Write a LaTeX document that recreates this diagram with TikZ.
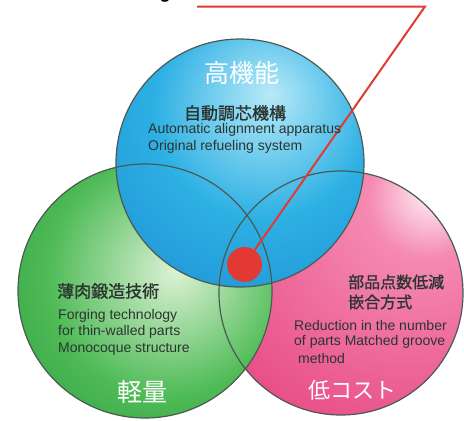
\documentclass[tikz,border=0pt]{standalone}
\usepackage{fontspec}
\setmainfont{Liberation Sans}
\newfontfamily\jp{Noto Sans CJK JP}
\newfontfamily\jpm[FakeBold=1.2]{Noto Sans CJK JP}
\definecolor{bluehi}{HTML}{B8EAF8}
\definecolor{bluemid}{HTML}{2DB0E4}
\definecolor{blueedge}{HTML}{1A8AD0}
\definecolor{greenhi}{HTML}{DDF2D6}
\definecolor{greenmid}{HTML}{4DBA55}
\definecolor{greenedge}{HTML}{23933A}
\definecolor{pinkhi}{HTML}{FFFFFF}
\definecolor{pinkmid}{HTML}{F58AB2}
\definecolor{pinkedge}{HTML}{E5407D}
\definecolor{redmark}{HTML}{E23A33}
\definecolor{outline}{HTML}{4B5A52}
\definecolor{txt}{HTML}{2B3530}
\pgfdeclareradialshading{blueball}{\pgfpoint{6bp}{14bp}}{color(0bp)=(bluehi); color(22bp)=(bluemid); color(48bp)=(blueedge); color(100bp)=(blueedge)}
\pgfdeclareradialshading{greenball}{\pgfpoint{6bp}{4bp}}{color(0bp)=(greenhi); color(24bp)=(greenmid); color(48bp)=(greenedge); color(100bp)=(greenedge)}
\pgfdeclareradialshading{pinkball}{\pgfpoint{20bp}{22bp}}{color(0bp)=(pinkhi); color(12bp)=(pinkmid); color(50bp)=(pinkedge); color(100bp)=(pinkedge)}
\begin{document}
\begin{tikzpicture}[x=1pt,y=-1pt,
  ball/.style={circle,inner sep=0pt,outer sep=0pt},
  ring/.style={draw=outline,line width=1.2pt},
  en/.style={anchor=west,inner sep=0pt,text=txt,font=\fontsize{14}{17}\selectfont},
  jpd/.style={anchor=west,inner sep=0pt,text=txt,font=\jpm\fontsize{17}{20}\selectfont},
  title/.style={inner sep=0pt,text=white,font=\jp\fontsize{25}{28}\selectfont},
  leader/.style={draw=redmark,line width=2pt}]
\useasboundingbox (0,0) rectangle (464,421);
\fill[white] (0,0) rectangle (464,421);
% partial text at top edge
\node[anchor=base,inner sep=0pt,font=\bfseries\fontsize{18}{20}\selectfont] (topg) at (165,-2) {g};
% circles (fills)
\node[ball,minimum size=244pt,shading=pinkball] (pink) at (341,293) {};
\node[ball,minimum size=254pt,shading=greenball] (green) at (145,291) {};
\node[ball,minimum size=248pt,shading=blueball] (blue) at (240,163) {};
% outlines
\draw[ring] (pink.center) circle[radius=122pt];
\draw[ring] (green.center) circle[radius=127pt];
\draw[ring] (blue.center) circle[radius=124pt];
% leader line and marker
\coordinate (lstart) at (197,6.5);
\coordinate (lcorner) at (425,6.5);
\node[circle,fill=redmark,inner sep=0pt,outer sep=0pt,minimum size=35pt] (dot) at (244.5,264.5) {};
\draw[leader] (lstart) -- (lcorner) -- (dot);
% blue texts
\node[title] (t1) at (242,73) {高機能};
\node[jpd,anchor=center] (j1) at (235,113) {自動調芯機構};
\node[en] (e1a) at (148,130) {Automatic alignment apparatus};
\node[en] (e1b) at (148,147) {Original refueling system};
% green texts
\node[jpd] (j2) at (57,291) {薄肉鍛造技術};
\node[en] (e2a) at (58,316) {Forging technology};
\node[en] (e2b) at (58,332) {for thin-walled parts};
\node[en] (e2c) at (58,349) {Monocoque structure};
\node[title] (t2) at (142,392) {軽量};
% pink texts
\node[jpd,font=\jpm\fontsize{16}{19}\selectfont] (j3a) at (348,282) {部品点数低減};
\node[jpd,font=\jpm\fontsize{16}{19}\selectfont] (j3b) at (348,302) {嵌合方式};
\node[en] (e3a) at (294,325) {Reduction in the number};
\node[en] (e3b) at (294,342) {of parts Matched groove};
\node[en] (e3c) at (298,358) {method};
\node[title,font=\jp\fontsize{22}{25}\selectfont] (t3) at (352,390) {低コスト};
\end{tikzpicture}
\end{document}
